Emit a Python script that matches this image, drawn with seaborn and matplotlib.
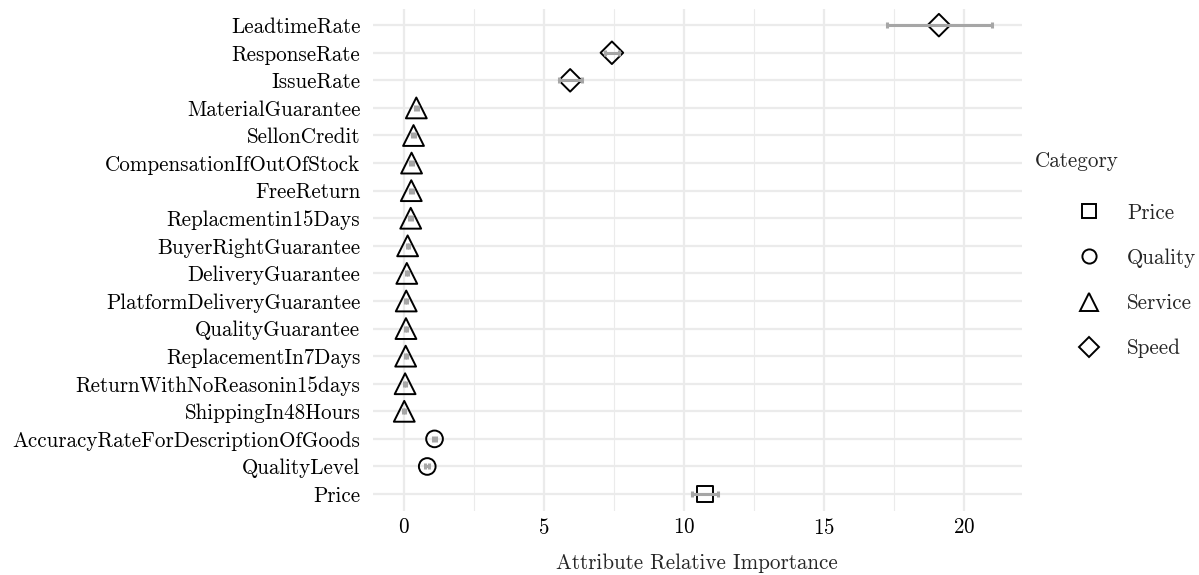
import matplotlib
matplotlib.use("Agg")
import matplotlib.pyplot as plt
from matplotlib.lines import Line2D
from matplotlib.ticker import MultipleLocator
import seaborn as sns
import pandas as pd

attributes = ["LeadtimeRate", "ResponseRate", "IssueRate", "MaterialGuarantee",
              "SellonCredit", "CompensationIfOutOfStock", "FreeReturn",
              "Replacmentin15Days", "BuyerRightGuarantee", "DeliveryGuarantee",
              "PlatformDeliveryGuarantee", "QualityGuarantee", "ReplacementIn7Days",
              "ReturnWithNoReasonin15days", "ShippingIn48Hours",
              "AccuracyRateForDescriptionOfGoods", "QualityLevel", "Price"]
categories = ["Speed", "Speed", "Speed", "Service", "Service", "Service", "Service",
              "Service", "Service", "Service", "Service", "Service", "Service",
              "Service", "Service", "Quality", "Quality", "Price"]
importance = [19.1, 7.43, 5.94, 0.45, 0.35, 0.28, 0.27, 0.25, 0.14, 0.11, 0.09,
              0.08, 0.07, 0.05, 0.02, 1.10, 0.84, 10.77]
lower = [17.25, 7.2, 5.55, 0.40, 0.30, 0.23, 0.22, 0.20, 0.10, 0.07, 0.05,
         0.04, 0.03, 0.01, -0.02, 1.03, 0.77, 10.3]
upper = [21.0, 7.68, 6.35, 0.50, 0.40, 0.33, 0.32, 0.30, 0.18, 0.15, 0.13,
         0.12, 0.11, 0.09, 0.06, 1.17, 0.91, 11.22]
legend_order = ["Price", "Quality", "Service", "Speed"]

df = pd.DataFrame({"Attribute": attributes, "Category": categories,
                   "Importance": importance, "Lower": lower, "Upper": upper})
df["pos"] = [attributes.index(a) for a in df["Attribute"]]

sns.set_theme(style="white")
plt.rcParams["font.family"] = ["cmr10", "DejaVu Serif"]
plt.rcParams["axes.formatter.use_mathtext"] = True
plt.rcParams["mathtext.fontset"] = "cm"
FS = 15.2

fig = plt.figure(figsize=(11.99, 5.75), dpi=100)
ax = fig.add_axes([0.311, 0.112, 0.541, 0.873])

marker_map = {"Price": "s", "Quality": "o", "Service": "^", "Speed": "D"}
size_map = {"Price": 11.5, "Quality": 12, "Service": 15, "Speed": 11.5}

for cat in legend_order:
    sub = df[df["Category"] == cat]
    sns.scatterplot(data=sub, x="Importance", y="pos", marker=marker_map[cat],
                    s=size_map[cat] ** 2, facecolor="none", edgecolor="black",
                    linewidth=1.4, ax=ax, zorder=3, legend=False)

ax.errorbar(df["Importance"], df["pos"],
            xerr=[df["Importance"] - df["Lower"], df["Upper"] - df["Importance"]],
            fmt="none", ecolor="#a6a6a6", elinewidth=2.2, capsize=2, capthick=2.2,
            zorder=4)

ax.set_xlim(-1.1, 22.05)
ax.set_ylim(len(attributes) - 0.4, -0.6)
ax.set_yticks(range(len(attributes)))
ax.set_yticklabels(attributes)
ax.xaxis.set_major_locator(MultipleLocator(5))
ax.xaxis.set_minor_locator(MultipleLocator(2.5))
ax.grid(True, which="major", axis="both", color="#ebebeb", linewidth=1.6, zorder=0)
ax.grid(True, which="minor", axis="x", color="#ebebeb", linewidth=0.8, zorder=0)
ax.set_axisbelow(True)
for s in ax.spines.values():
    s.set_visible(False)
ax.tick_params(axis="y", length=0, pad=9, labelsize=FS, colors="black")
ax.tick_params(axis="x", which="both", length=0, pad=5, labelsize=FS, colors="black")
ax.set_xlabel("Attribute Relative Importance", fontsize=FS, labelpad=11.5)
ax.set_ylabel("")

fig.text(1035 / 1199, 1 - 161 / 575, "Category", fontsize=FS, ha="left", va="center")
handles = [Line2D([], [], linestyle="none", marker=marker_map[c],
                  markersize=size_map[c] * 0.85, markerfacecolor="none",
                  markeredgecolor="black", markeredgewidth=1.4, label=c)
           for c in legend_order]
leg = fig.legend(handles=handles, loc="upper left",
                 bbox_to_anchor=(0.8904, 0.647), frameon=False, fontsize=FS,
                 labelspacing=1.22, handletextpad=0.83, borderpad=0,
                 borderaxespad=0, handlelength=2.0)

fig.savefig("out.png", dpi=100)
